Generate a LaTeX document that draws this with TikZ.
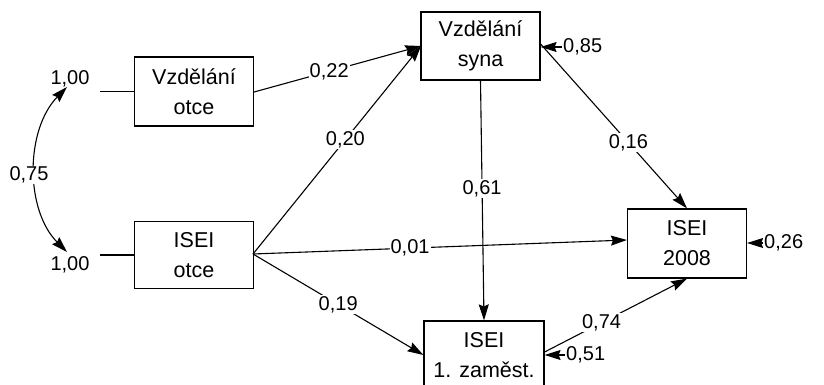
\documentclass[tikz,border=0pt]{standalone}
\usepackage{fontspec}
\setmainfont{Liberation Sans}
\usetikzlibrary{arrows.meta}
\begin{document}
\begin{tikzpicture}[x=1pt,y=-1pt,
  box/.style={draw,line width=1.2pt,minimum width=119pt,align=center,inner sep=0pt,font=\fontsize{21.5}{30}\selectfont},
  lbl/.style={fill=white,inner sep=1pt,font=\fontsize{20}{22}\selectfont},
  tip/.tip={Stealth[length=16pt,width=10pt,inset=2pt]},
  arr/.style={line width=1.1pt,-tip},
  ln/.style={line width=1.1pt}]
\useasboundingbox (0,0) rectangle (824,385);
\fill[white] (0,0) rectangle (824,385);
\node[box,minimum height=69pt] (vo) at (194,91.5) {Vzdělání\\otce};
\node[box,minimum height=67pt] (io) at (194,255) {ISEI\\otce};
\node[box,minimum height=68pt] (vs) at (480.5,46) {Vzdělání\\syna};
\node[box,minimum height=69pt] (ie) at (687,243.5) {ISEI\\2008};
\node[box,minimum width=120pt,minimum height=68pt] (iz) at (484,355) {ISEI\\1. zaměst.};
% variances
\node[lbl,fill=none] (v1) at (70,79) {1,00};
\node[lbl,fill=none] (v2) at (70,265) {1,00};
\coordinate (l1) at (100,91.5);
\coordinate (l2) at (100,255);
\draw[ln] (l1) -- (vo.west);
\draw[ln] (l2) -- (io.west);
\coordinate (c1) at (67,87);
\coordinate (c2) at (67,252);
\draw[line width=1.1pt,tip-tip] (c1) .. controls (25,130) and (25,210) .. (c2);
\node[lbl] (r) at (29,175) {0,75};
% paths
\coordinate (vsin) at (421,46);
\draw[arr] (vo.east |- 0,92) -- (vsin) node[lbl,pos=0.45] {0,22};
\coordinate (ioout) at (253,254);
\draw[arr] (ioout) -- (vsin) node[lbl,pos=0.55] {0,20};
\draw[arr] (ioout) -- (ie.west |- 0,240) node[lbl,pos=0.42] {0,01};
\draw[arr] (ioout) -- (iz.west) node[lbl,pos=0.5] {0,19};
\draw[arr] (vs.south) -- (iz.north) node[lbl,pos=0.45] {0,61};
\draw[arr] (vs.east |- 0,44) -- (ie.north) node[lbl,pos=0.6] {0,16};
\draw[arr] (iz.east |- 0,352) -- (ie.south) node[lbl,pos=0.4] {0,74};
% errors
\node[lbl,fill=none,anchor=west] (e1) at (562,47) {0,85};
\node[lbl,fill=none,anchor=west] (e2) at (763,243) {0,26};
\node[lbl,fill=none,anchor=west] (e3) at (565,355) {0,51};
\draw[arr] (e1.west) -- (vs.east |- e1.west);
\draw[arr] (e2.west) -- (ie.east |- e2.west);
\draw[arr] (e3.west) -- (iz.east |- e3.west);
\end{tikzpicture}
\end{document}
